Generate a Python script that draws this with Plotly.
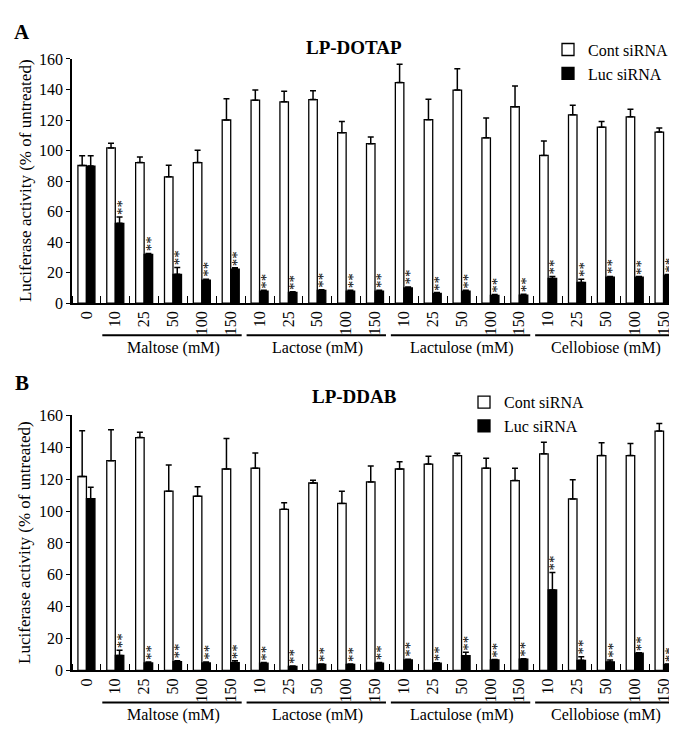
import plotly.graph_objects as go

# ---------------- data ----------------
tick_labels = ["0", "10", "25", "50", "100", "150",
               "10", "25", "50", "100", "150",
               "10", "25", "50", "100", "150",
               "10", "25", "50", "100", "150"]
groups = ["Maltose (mM)", "Lactose (mM)", "Lactulose (mM)", "Cellobiose (mM)"]
group_first = [1, 6, 11, 16]
group_last = [5, 10, 15, 20]

series_names = ["Cont siRNA", "Luc siRNA"]

# Panel A: LP-DOTAP
a_cont = [90.2, 101.7, 92.1, 82.8, 92.1, 120.0, 133.0, 131.9, 133.4, 111.7, 104.5,
          144.5, 120.2, 139.6, 108.3, 128.7, 96.8, 123.4, 115.3, 122.1, 112.1]
a_cont_err = [6.4, 3.0, 3.6, 7.6, 8.1, 14.0, 6.6, 7.0, 5.7, 7.4, 4.4,
              12.1, 13.4, 14.0, 13.0, 13.6, 9.4, 6.2, 3.8, 4.9, 2.6]
a_luc = [89.8, 52.3, 31.9, 18.9, 15.1, 22.3, 7.9, 7.0, 8.3, 7.9, 7.9,
         10.0, 6.4, 7.9, 5.1, 5.3, 16.2, 13.6, 17.0, 17.0, 18.3]
a_luc_err = [6.8, 4.1, 0.7, 4.5, 0.6, 0.9, 0.5, 0.5, 0.5, 0.5, 0.5,
             0.6, 0.5, 0.5, 0.5, 0.5, 1.2, 2.1, 0.5, 0.5, 0.5]

# Panel B: LP-DDAB
b_cont = [121.7, 131.6, 146.1, 112.5, 109.3, 126.4, 126.9, 101.1, 117.6, 104.8, 118.3,
          126.4, 129.5, 134.8, 126.9, 119.1, 135.9, 107.6, 134.8, 134.8, 150.2]
b_cont_err = [28.7, 19.4, 3.3, 16.4, 5.9, 19.1, 9.6, 4.1, 1.7, 7.7, 10.0,
              4.6, 4.9, 1.5, 6.3, 7.8, 7.3, 12.1, 8.0, 7.6, 4.7]
b_luc = [107.8, 9.4, 4.7, 5.5, 4.7, 4.9, 4.5, 2.5, 3.7, 3.7, 4.5,
         6.5, 4.5, 9.2, 6.5, 7.0, 50.5, 6.3, 5.3, 10.8, 3.7]
b_luc_err = [7.2, 3.3, 0.5, 0.5, 0.5, 1.2, 0.5, 0.3, 0.3, 0.3, 0.5,
             0.5, 0.3, 2.1, 0.3, 0.3, 10.9, 2.3, 1.2, 0.3, 0.3]

y_ticks = [0, 20, 40, 60, 80, 100, 120, 140, 160]

# ---------------- layout constants ----------------
W, H = 677, 729
FONT = "Liberation Serif"
BARGAP = 0.41
x_idx = list(range(len(tick_labels)))


def px_x(p):
    return p / W


def px_y(p):
    return 1 - p / H


fig = go.Figure()

panels = [
    dict(cont=a_cont, cerr=a_cont_err, luc=a_luc, lerr=a_luc_err, xa="x", ya="y",
         legend="legend", title="LP-DOTAP", letter="A",
         top=44, bottom=294, title_y=32, letter_y=16, line_y=327, label_y=340),
    dict(cont=b_cont, cerr=b_cont_err, luc=b_luc, lerr=b_luc_err, xa="x2", ya="y2",
         legend="legend2", title="LP-DDAB", letter="B",
         top=409, bottom=670, title_y=390, letter_y=376, line_y=703, label_y=716),
]

annotations = []
shapes = []
for p in panels:
    fig.add_trace(go.Bar(
        x=x_idx, y=p["cont"], name=series_names[0], xaxis=p["xa"], yaxis=p["ya"],
        legend=p["legend"],
        marker=dict(color="white", line=dict(color="black", width=1.3)),
        error_y=dict(type="data", symmetric=False, array=p["cerr"],
                     arrayminus=[0] * len(x_idx), color="black", thickness=1.5, width=3),
    ))
    fig.add_trace(go.Bar(
        x=x_idx, y=p["luc"], name=series_names[1], xaxis=p["xa"], yaxis=p["ya"],
        legend=p["legend"],
        marker=dict(color="black", line=dict(color="black", width=1.3)),
        error_y=dict(type="data", symmetric=False, array=p["lerr"],
                     arrayminus=[0] * len(x_idx), color="black", thickness=1.5, width=3),
    ))
    # significance stars above Luc bars (not for 0 mM)
    off = (1 - BARGAP) / 4
    for i in x_idx[1:]:
        annotations.append(dict(
            x=i + off, y=p["luc"][i] + p["lerr"][i], xref=p["xa"], yref=p["ya"],
            text="**", textangle=-90, showarrow=False, xanchor="center", yanchor="bottom",
            yshift=0, xshift=2, font=dict(family=FONT, size=15, color="black")))
    # group underlines and labels
    for g, f, l in zip(groups, group_first, group_last):
        shapes.append(dict(type="line", xref=p["xa"], yref="paper",
                           x0=f - 0.45, x1=l + 0.38,
                           y0=px_y(p["line_y"]), y1=px_y(p["line_y"]),
                           line=dict(color="black", width=2)))
        annotations.append(dict(x=(f + l) / 2, y=px_y(p["label_y"]), xref=p["xa"], yref="paper",
                                text=g, showarrow=False, xanchor="center", yanchor="middle",
                                font=dict(family=FONT, size=16, color="black")))
    # panel title
    annotations.append(dict(x=px_x(346), y=px_y(p["title_y"]), xref="paper", yref="paper",
                            text="<b>%s</b>" % p["title"], showarrow=False,
                            xanchor="center", yanchor="middle",
                            font=dict(family=FONT, size=19, color="black")))
    # panel letter
    annotations.append(dict(x=px_x(14), y=px_y(p["letter_y"]), xref="paper", yref="paper",
                            text="<b>%s</b>" % p["letter"], showarrow=False,
                            xanchor="center", yanchor="middle",
                            font=dict(family=FONT, size=21, color="black")))
    # y axis title
    annotations.append(dict(x=px_x(17), y=px_y((p["top"] + p["bottom"]) / 2),
                            xref="paper", yref="paper",
                            text="Luciferase activity (% of untreated)", textangle=-90,
                            showarrow=False, xanchor="center", yanchor="middle",
                            font=dict(family=FONT, size=17, color="black")))

x_dom = [px_x(64), px_x(670)]
xaxis_common = dict(
    domain=x_dom, range=[-0.5, 20.5], tickmode="array", tickvals=x_idx,
    ticktext=tick_labels, tickangle=-90, ticks="", showline=True, linecolor="black",
    linewidth=1.5, showgrid=False, zeroline=False,
    tickfont=dict(family=FONT, size=16, color="black"),
    minor=dict(tickmode="linear", tick0=0.5, dtick=1, ticks="inside", ticklen=7,
               tickcolor="black", tickwidth=1.3, showgrid=False),
)
yaxis_common = dict(
    range=[0, 160], tickmode="array", tickvals=y_ticks, ticks="outside", ticklen=4,
    tickwidth=1.3, tickcolor="black", showline=True, linecolor="black", linewidth=1.5,
    showgrid=False, zeroline=False,
    tickfont=dict(family=FONT, size=16, color="black"),
)

fig.update_layout(
    width=W, height=H, margin=dict(l=0, r=0, t=0, b=0),
    paper_bgcolor="white", plot_bgcolor="white",
    barmode="group", bargap=BARGAP, bargroupgap=0,
    font=dict(family=FONT, color="black"),
    xaxis=dict(xaxis_common, anchor="y"),
    yaxis=dict(yaxis_common, domain=[px_y(294), px_y(44)], anchor="x"),
    xaxis2=dict(xaxis_common, anchor="y2"),
    yaxis2=dict(yaxis_common, domain=[px_y(670), px_y(409)], anchor="x2"),
    legend=dict(x=px_x(540), y=px_y(17), xanchor="left", yanchor="top",
                bgcolor="rgba(0,0,0,0)", font=dict(family=FONT, size=16, color="black"),
                tracegroupgap=0, itemwidth=30),
    legend2=dict(x=px_x(456), y=px_y(378), xanchor="left", yanchor="top",
                 bgcolor="rgba(0,0,0,0)", font=dict(family=FONT, size=16, color="black"),
                 tracegroupgap=0, itemwidth=30),
    annotations=annotations, shapes=shapes,
)

fig.write_html("out.html")
